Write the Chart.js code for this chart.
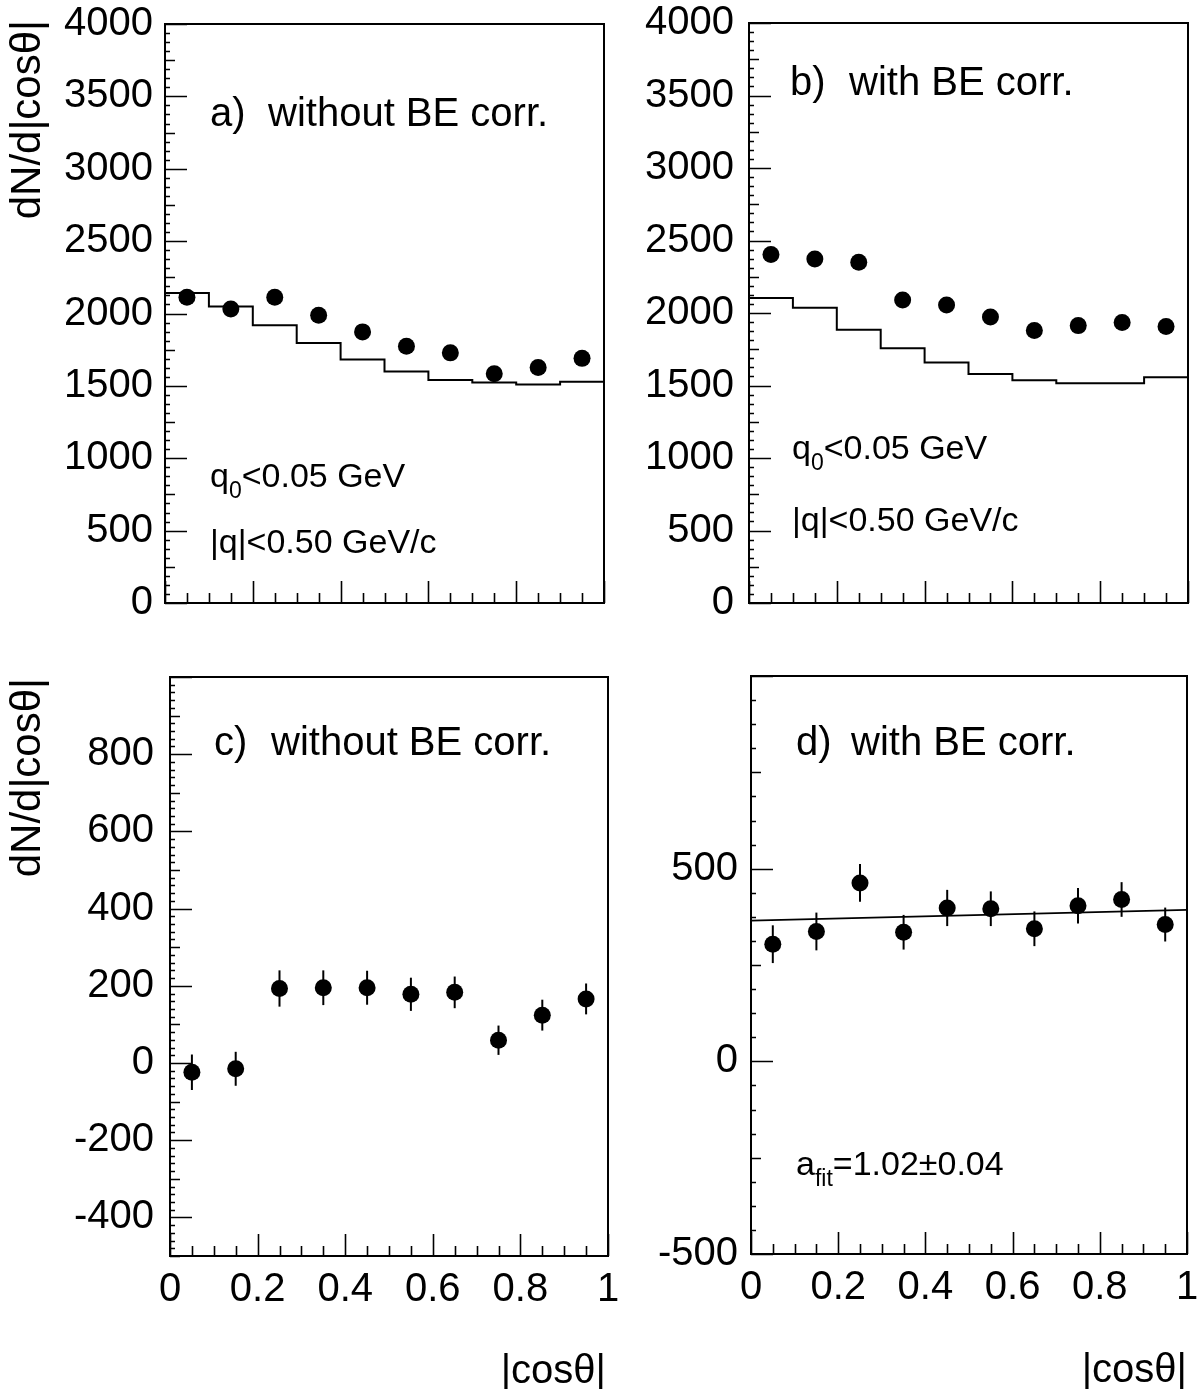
<!DOCTYPE html>
<html>
<head>
<meta charset="utf-8">
<script src="https://cdn.jsdelivr.net/npm/chart.js@4/dist/chart.umd.min.js"></script>
<style>
  html, body { margin: 0; padding: 0; background: #fff; }
  body { width: 1197px; height: 1389px; position: relative; overflow: hidden; }
  canvas { position: absolute; }
</style>
</head>
<body>
<canvas id="pa" width="620" height="640" style="left:0;top:0"></canvas>
<canvas id="pb" width="597" height="640" style="left:600px;top:0"></canvas>
<canvas id="pc" width="620" height="749" style="left:0;top:640px"></canvas>
<canvas id="pd" width="597" height="749" style="left:600px;top:640px"></canvas>
<script>
// ===== data =====
const binCenters = [0.05, 0.15, 0.25, 0.35, 0.45, 0.55, 0.65, 0.75, 0.85, 0.95];
const binEdges = [0, 0.1, 0.2, 0.3, 0.4, 0.5, 0.6, 0.7, 0.8, 0.9, 1.0];

// a) without BE corr.: data points and MC histogram
const dataA = [2113, 2031, 2113, 1988, 1873, 1774, 1728, 1583, 1627, 1690];
const histA = [2141, 2048, 1919, 1796, 1682, 1600, 1540, 1523, 1510, 1528];
// b) with BE corr.
const dataB = [2404, 2372, 2350, 2090, 2055, 1973, 1880, 1913, 1934, 1907];
const histB = [2104, 2036, 1885, 1757, 1658, 1579, 1536, 1516, 1516, 1557];
// c) difference without BE corr.
const diffC = [-24, -15, 193, 195, 195, 178, 183, 59, 124, 166];
const errC = [46, 44, 47, 45, 44, 43, 41, 38, 40, 40];
// d) difference with BE corr. + linear fit
const diffD = [304, 337, 463, 335, 398, 396, 344, 404, 420, 355];
const errD = [49, 49, 49, 45, 47, 45, 45, 46, 45, 44];
const fitX = [0, 1];
const fitD = [365, 393];

// tick labels
const yTicksAB = [0, 500, 1000, 1500, 2000, 2500, 3000, 3500, 4000];
const yTicksC = [-400, -200, 0, 200, 400, 600, 800];
const yTicksD = [-500, 0, 500];
const xTicks = [0, 0.2, 0.4, 0.6, 0.8, 1];

const FONT = '"Liberation Sans", Arial, Helvetica, sans-serif';
const AXIS_TITLE = "dN/d|cos\u03b8|";
const X_TITLE = "|cos\u03b8|";
const TICK_SIZE = 40;

const pts = (xs, ys) => xs.map((x, i) => ({ x, y: ys[i] }));
const histPts = (vals) => binEdges.map((x, i) => ({ x, y: vals[Math.min(i, vals.length - 1)] }));

/* ===== plugins ===== */
// inward ticks + frame, PAW style
const hepFrame = {
  id: "hepFrame",
  afterDatasetsDraw(chart, args, o) {
    const { ctx, chartArea: a, scales: { x, y } } = chart;
    ctx.save();
    ctx.strokeStyle = "#000";
    ctx.lineWidth = 1.6;
    ctx.beginPath();
    // y ticks on the left edge
    const ny = Math.round(o.yMajor / o.yMinor);
    for (let k = Math.ceil(y.min / o.yMinor - 1e-6); k * o.yMinor <= y.max + 1e-6; k++) {
      const py = Math.round(y.getPixelForValue(k * o.yMinor)) + 0.5;
      let len = 5;
      if (k % ny === 0) len = 22;
      else if (k % (ny / 2) === 0) len = 10;
      ctx.moveTo(a.left, py);
      ctx.lineTo(a.left + len, py);
    }
    // x ticks on the bottom edge
    const nx = Math.round(o.xMajor / o.xMinor);
    for (let k = 0; k * o.xMinor <= x.max + 1e-6; k++) {
      const px = Math.round(x.getPixelForValue(k * o.xMinor)) + 0.5;
      const len = k % nx === 0 ? 22 : 10;
      ctx.moveTo(px, a.bottom);
      ctx.lineTo(px, a.bottom - len);
    }
    ctx.stroke();
    ctx.lineWidth = 2;
    ctx.strokeRect(a.left, a.top, a.right - a.left, a.bottom - a.top);
    ctx.restore();
  }
};

// vertical error bars under the dots
const errBars = {
  id: "errBars",
  beforeDatasetsDraw(chart) {
    const { ctx, scales: { x, y } } = chart;
    ctx.save();
    ctx.strokeStyle = "#000";
    ctx.lineWidth = 2;
    chart.data.datasets.forEach((ds) => {
      if (!ds.errors) return;
      ds.data.forEach((p, i) => {
        const px = x.getPixelForValue(p.x);
        ctx.beginPath();
        ctx.moveTo(px, y.getPixelForValue(p.y - ds.errors[i]));
        ctx.lineTo(px, y.getPixelForValue(p.y + ds.errors[i]));
        ctx.stroke();
      });
    });
    ctx.restore();
  }
};

// free text: panel titles, cuts, axis titles
const texts = {
  id: "texts",
  afterDraw(chart, args, o) {
    const ctx = chart.ctx;
    ctx.save();
    ctx.fillStyle = "#000";
    ctx.textBaseline = "alphabetic";
    (o.items || []).forEach((it) => {
      ctx.save();
      ctx.translate(it.x, it.y);
      if (it.rot) ctx.rotate(-Math.PI / 2);
      const parts = Array.isArray(it.t) ? it.t : [[it.t]];
      let total = 0;
      parts.forEach(([s, sub]) => {
        ctx.font = `${sub ? Math.round(it.size * 0.68) : it.size}px ${FONT}`;
        total += ctx.measureText(s).width;
      });
      let cx = it.align === "right" ? -total : 0;
      parts.forEach(([s, sub]) => {
        ctx.font = `${sub ? Math.round(it.size * 0.68) : it.size}px ${FONT}`;
        ctx.textAlign = "left";
        ctx.fillText(s, cx, sub ? it.size * 0.32 : 0);
        cx += ctx.measureText(s).width;
      });
      ctx.restore();
    });
    ctx.restore();
  }
};

/* ===== chart factory ===== */
function makePanel(id, cfg) {
  const datasets = [];
  if (cfg.hist) {
    datasets.push({
      data: histPts(cfg.hist), showLine: true, stepped: "before",
      borderColor: "#000", borderWidth: 2, pointRadius: 0, fill: false
    });
  }
  if (cfg.fit) {
    datasets.push({
      data: pts(fitX, cfg.fit), showLine: true,
      borderColor: "#000", borderWidth: 1.8, pointRadius: 0, fill: false
    });
  }
  datasets.push({
    data: pts(binCenters, cfg.points), errors: cfg.errors,
    pointRadius: cfg.dotR || 8.5, pointHoverRadius: cfg.dotR || 8.5,
    pointBackgroundColor: "#000", pointBorderColor: "#000", pointBorderWidth: 0, showLine: false
  });

  return new Chart(document.getElementById(id), {
    type: "scatter",
    data: { datasets },
    plugins: [errBars, hepFrame, texts],
    options: {
      responsive: false,
      animation: false,
      events: [],
      layout: { padding: cfg.pad },
      plugins: {
        legend: { display: false },
        tooltip: { enabled: false },
        hepFrame: cfg.ticks,
        texts: { items: cfg.texts }
      },
      scales: {
        x: {
          type: "linear", min: 0, max: 1,
          grid: { display: false, drawTicks: false },
          border: { display: false },
          ticks: {
            display: cfg.xLabels, color: "#000", padding: cfg.xPad || 10,
            font: { family: FONT, size: TICK_SIZE }, maxRotation: 0, autoSkip: false,
            callback: (v) => String(v)
          },
          afterBuildTicks: (s) => { s.ticks = xTicks.map((v) => ({ value: v })); },
          afterFit: (s) => {
            s.height = cfg.xH;
            s.paddingLeft = s.paddingRight = s.paddingTop = s.paddingBottom = 0;
          }
        },
        y: {
          type: "linear", min: cfg.yMin, max: cfg.yMax,
          grid: { display: false, drawTicks: false },
          border: { display: false },
          ticks: {
            color: "#000", padding: cfg.yPad, font: { family: FONT, size: TICK_SIZE },
            autoSkip: false, callback: (v) => String(v)
          },
          afterBuildTicks: (s) => { s.ticks = cfg.yTicks.map((v) => ({ value: v })); },
          afterFit: (s) => {
            s.width = cfg.yW;
            s.paddingLeft = s.paddingRight = s.paddingTop = s.paddingBottom = 0;
          }
        }
      }
    }
  });
}

makePanel("pa", {
  points: dataA, hist: histA,
  yMin: 0, yMax: 4000, yTicks: yTicksAB, yW: 165, yPad: 12, xH: 37, xLabels: false,
  pad: { top: 24, right: 16, left: 0, bottom: 0 },
  ticks: { yMajor: 500, yMinor: 62.5, xMajor: 0.2, xMinor: 0.05 },
  texts: [
    { t: "a)", x: 210, y: 126, size: 40 },
    { t: "without BE corr.", x: 268, y: 126, size: 40 },
    { t: [["q"], ["0", true], ["<0.05 GeV"]], x: 210, y: 487, size: 34 },
    { t: "|q|<0.50 GeV/c", x: 210, y: 553, size: 34 },
    { t: AXIS_TITLE, x: 40, y: 20, size: 42, rot: true, align: "right" }
  ]
});

makePanel("pb", {
  points: dataB, hist: histB,
  yMin: 0, yMax: 4000, yTicks: yTicksAB, yW: 149, yPad: 15, xH: 37, xLabels: false,
  pad: { top: 23, right: 9, left: 0, bottom: 0 },
  ticks: { yMajor: 500, yMinor: 62.5, xMajor: 0.2, xMinor: 0.05 },
  texts: [
    { t: "b)", x: 190, y: 95, size: 40 },
    { t: "with BE corr.", x: 249, y: 95, size: 40 },
    { t: [["q"], ["0", true], ["<0.05 GeV"]], x: 192, y: 459, size: 34 },
    { t: "|q|<0.50 GeV/c", x: 192, y: 531, size: 34 }
  ]
});

makePanel("pc", {
  points: diffC, errors: errC, dotR: 8.5,
  yMin: -500, yMax: 1000, yTicks: yTicksC, yW: 170, yPad: 16, xH: 133, xLabels: true, xPad: 10,
  pad: { top: 37, right: 12, left: 0, bottom: 0 },
  ticks: { yMajor: 200, yMinor: 20, xMajor: 0.2, xMinor: 0.05 },
  texts: [
    { t: "c)", x: 214, y: 115, size: 40 },
    { t: "without BE corr.", x: 271, y: 115, size: 40 },
    { t: AXIS_TITLE, x: 40, y: 38, size: 42, rot: true, align: "right" },
    { t: X_TITLE, x: 606, y: 743, size: 40, align: "right" }
  ]
});

makePanel("pd", {
  points: diffD, errors: errD, fit: fitD, dotR: 8.5,
  yMin: -500, yMax: 1000, yTicks: yTicksD, yW: 151, yPad: 13, xH: 135, xLabels: true, xPad: 10,
  pad: { top: 36, right: 10, left: 0, bottom: 0 },
  ticks: { yMajor: 500, yMinor: 62.5, xMajor: 0.2, xMinor: 0.05 },
  texts: [
    { t: "d)", x: 196, y: 115, size: 40 },
    { t: "with BE corr.", x: 251, y: 115, size: 40 },
    { t: [["a"], ["fit", true], ["=1.02\u00b10.04"]], x: 196, y: 535, size: 34 },
    { t: X_TITLE, x: 587, y: 742, size: 40, align: "right" }
  ]
});
</script>
</body>
</html>
